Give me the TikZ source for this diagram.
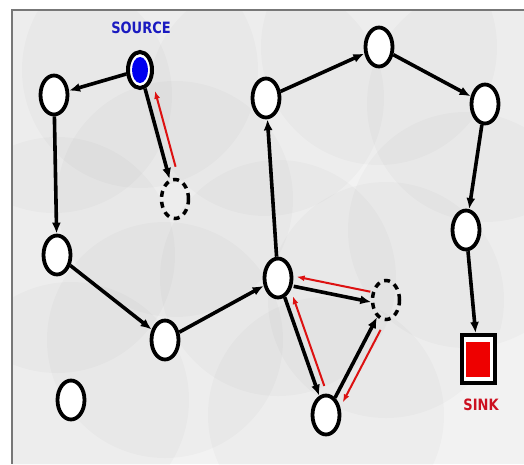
\documentclass[tikz,border=0pt]{standalone}
\usepackage{fontspec}
\setmainfont{Liberation Sans}
\newfontfamily\lblfont{DejaVu Sans}
\usetikzlibrary{shapes.geometric,arrows.meta,calc}
\definecolor{srcblue}{HTML}{0000F0}
\definecolor{srctext}{HTML}{1A1AC0}
\definecolor{sinkred}{HTML}{EE0000}
\definecolor{sinktext}{HTML}{CC1020}
\definecolor{rarrow}{HTML}{DD1111}
\definecolor{framegray}{HTML}{777777}
\begin{document}
\begin{tikzpicture}[x=1pt,y=-1pt,
  vnode/.style={ellipse, draw=black, line width=3.8pt, fill=white,
    minimum width=27pt, minimum height=39pt, inner sep=0pt},
  dnode/.style={ellipse, draw=black, line width=3.5pt, dash pattern=on 6pt off 5pt,
    minimum width=27pt, minimum height=39pt, inner sep=0pt},
  srcnode/.style={ellipse, draw=black, line width=4pt, fill=white,
    minimum width=24pt, minimum height=36pt, inner sep=0pt,
    path picture={\fill[srcblue] (path picture bounding box.center) ellipse (8pt and 13pt);}},
  sinknode/.style={rectangle, draw=black, line width=4pt, fill=white,
    minimum width=33pt, minimum height=48pt, inner sep=0pt,
    path picture={\fill[sinkred] ($(path picture bounding box.center)+(-12,-17.5)$) rectangle ++(24,35);}},
  barr/.style={-{Latex[length=11pt,width=9pt]}, line width=3.6pt},
  rarr/.style={-{Latex[length=8pt,width=6pt]}, line width=2pt, draw=rarrow},
  lbl/.style={font=\lblfont\bfseries\fontsize{13}{15}\selectfont, inner sep=0pt, yscale=1.2}
]
\useasboundingbox (0,0) rectangle (524,464);
\fill[white] (0,0) rectangle (524,464);
\fill[black!5] (12,10) rectangle (524,464);
\begin{scope}
\clip (12,10) rectangle (524,464);
\foreach \p in {(140,70),(54,95),(175,199),(57,255),(165,340),(71,400),(278,278),(386,300),(326,415),(266,98),(379,47),(485,104),(466,230)}
  \fill[black, opacity=0.02] \p circle (118);
\end{scope}
\draw[line width=2.2pt, framegray] (12,464) -- (12,10) -- (524,10);

\node[srcnode] (S) at (140,70) {};
\node[vnode] (A) at (54,95) {};
\node[dnode] (D) at (175,199) {};
\node[vnode] (B) at (57,255) {};
\node[vnode] (C) at (165,340) {};
\node[vnode] (E) at (71,400) {};
\node[vnode] (F) at (278,278) {};
\node[dnode] (G) at (386,300) {};
\node[vnode] (H) at (326,415) {};
\node[vnode] (I) at (266,98) {};
\node[vnode] (J) at (379,47) {};
\node[vnode] (K) at (485,104) {};
\node[vnode] (L) at (466,230) {};
\node[sinknode] (T) at (478,359) {};

\node[lbl, text=srctext] (srclbl) at (141,28) {SOURCE};
\node[lbl, text=sinktext] (sinklbl) at (481,405) {SINK};

\draw[barr] (S) -- (A);
\draw[barr] (S) -- (D);
\draw[rarr, shorten <=31pt, shorten >=24pt] ($(D)!9pt!-90:(S)$) -- ($(S)!9pt!90:(D)$);
\draw[barr] (A) -- (B);
\draw[barr] (B) -- (C);
\draw[barr] (C) -- (F);
\draw[barr] (F) -- (I);
\draw[barr] (I) -- (J);
\draw[barr] (J) -- (K);
\draw[barr] (K) -- (L);
\draw[barr] (L) -- (T);
\draw[barr, shorten <=17pt, shorten >=14pt] ($(F)!5pt!-90:(G)$) -- ($(G)!5pt!90:(F)$);
\draw[rarr, shorten <=17pt, shorten >=18pt] ($(G)!5pt!-90:(F)$) -- ($(F)!5pt!90:(G)$);
\draw[barr] (F) -- (H);
\draw[rarr, shorten <=28pt, shorten >=22pt] ($(H)!8pt!-90:(F)$) -- ($(F)!8pt!90:(H)$);
\draw[barr] (H) -- (G);
\draw[rarr, shorten <=29pt, shorten >=19pt] ($(G)!9pt!90:(H)$) -- ($(H)!9pt!-90:(G)$);
\end{tikzpicture}
\end{document}
